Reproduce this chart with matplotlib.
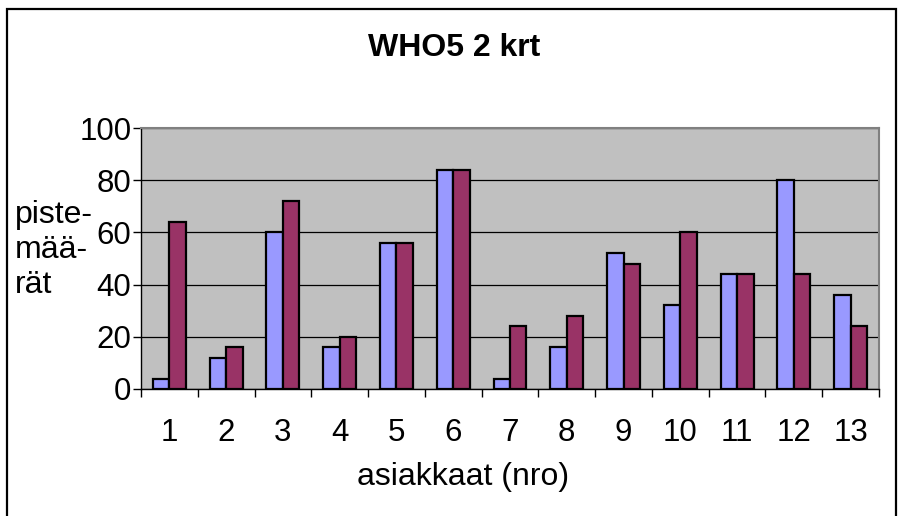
import numpy as np
import matplotlib
matplotlib.use('Agg')
from matplotlib import pyplot as plt
from matplotlib.patches import Rectangle

plt.rcParams['font.family'] = ['Liberation Sans', 'DejaVu Sans']

# WHO5 scores, two measurements per client
clients = [str(i) for i in range(1, 14)]
first = [4, 12, 60, 16, 56, 84, 4, 16, 52, 32, 44, 80, 36]
second = [64, 16, 72, 20, 56, 84, 24, 28, 48, 60, 44, 44, 24]
yticks = [0, 20, 40, 60, 80, 100]

W, H = 898, 516
fig = plt.figure(figsize=(W/100, H/100), dpi=100)
ax = fig.add_axes([141/W, 1 - 389/H, 738/W, 261/H])

x = np.arange(len(clients))
bw = 0.29
ax.bar(x - bw/2, first, bw, color='#9999FF', edgecolor='black', linewidth=1.6, zorder=3)
ax.bar(x + bw/2, second, bw, color='#993366', edgecolor='black', linewidth=1.6, zorder=3)

ax.set_facecolor('#C0C0C0')
ax.set_xlim(-0.5, len(clients) - 0.5)
ax.set_ylim(0, 100)
ax.set_yticks(yticks)
ax.yaxis.grid(True, color='black', linewidth=0.9, zorder=1)
ax.set_axisbelow(True)

# labels at the categories, tick marks between them
ax.set_xticks(x)
ax.set_xticklabels(clients)
ax.set_xticks(np.arange(len(clients) + 1) - 0.5, minor=True)
ax.tick_params(axis='x', which='major', length=0, pad=21, labelsize=22.5)
ax.tick_params(axis='x', which='minor', length=6, width=1, direction='out')
ax.tick_params(axis='y', length=6, width=1, pad=1, labelsize=22.5)

for s in ['left', 'bottom']:
    ax.spines[s].set_color('black')
    ax.spines[s].set_linewidth(1.0)
for s in ['top', 'right']:
    ax.spines[s].set_color('#808080')
    ax.spines[s].set_linewidth(1.5)

fig.text(454/W, 1 - 48/H, 'WHO5 2 krt', ha='center', va='center',
         fontsize=23, fontweight='bold')
fig.text(463/W, 1 - 477/H, 'asiakkaat (nro)', ha='center', va='center', fontsize=23)
fig.text(15/W, 1 - 250/H, 'piste-\nmää-\nrät', ha='left', va='center',
         fontsize=23, linespacing=1.22)

# chart border
fig.add_artist(Rectangle((7/W, -0.05), 889/W, 1.05 - 9/H, transform=fig.transFigure,
                         fill=False, edgecolor='black', linewidth=1.6, clip_on=False))

fig.savefig('out.png', dpi=100)
